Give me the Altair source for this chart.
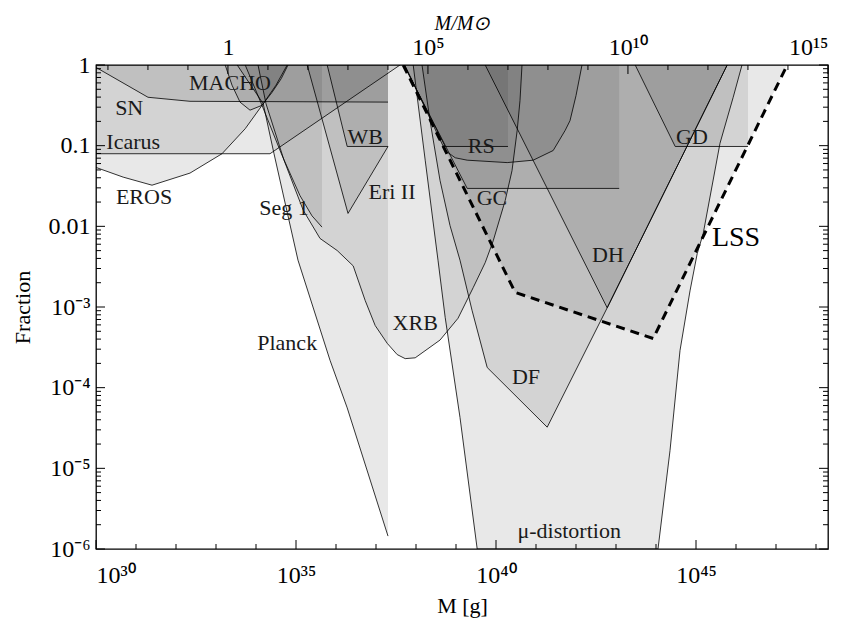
import altair as alt
import pandas as pd
import numpy as np

FONT = "Liberation Serif"

# ---- constraint boundaries: x = log10(M / g), y = log10(fraction) ----
SN_L = [30.0, 31.3, 32.35, 37.3]
SN_F = [-0.03, -0.40, -0.45, -0.46]
ICARUS_L = [30.0, 34.35, 37.6]
ICARUS_F = [-1.10, -1.10, 0.0]
EROS_L = [30.0, 30.68, 31.4, 32.35, 33.15, 33.73, 34.18, 34.5, 34.78]
EROS_F = [-1.27, -1.39, -1.49, -1.34, -1.10, -0.79, -0.48, -0.25, 0.0]
MACHO_L = [33.23, 33.4, 33.6, 33.85, 34.15, 34.4, 34.63, 34.8]
MACHO_F = [0.0, -0.25, -0.46, -0.56, -0.50, -0.34, -0.17, 0.0]
PLANCK_L = [33.53, 34.18, 34.45, 35.05, 35.85, 36.28, 37.3]
PLANCK_F = [0.0, -0.48, -1.10, -2.42, -3.66, -4.25, -5.84]
XRB_L = [34.05, 34.25, 34.7, 35.18, 35.6, 36.03, 36.43, 36.73, 36.98, 37.28, 37.53,
         37.73, 37.98, 38.6, 39.05, 39.43, 39.73, 39.93, 40.23, 40.4, 40.53, 40.6, 40.65]
XRB_F = [0.0, -0.48, -1.18, -1.80, -2.15, -2.30, -2.49, -2.92, -3.23, -3.45, -3.59,
         -3.64, -3.63, -3.41, -3.14, -2.76, -2.45, -2.18, -1.68, -1.31, -0.81, -0.44, 0.0]
SEG1_L = [33.73, 34.15, 34.65, 35.1, 35.4, 35.65]
SEG1_F = [0.0, -0.50, -1.12, -1.62, -1.87, -2.01]
ERI_L = [35.28, 36.3, 37.3]
ERI_F = [0.0, -1.84, -1.01]
WB_L = [35.78, 36.28, 37.3]
WB_F = [0.0, -1.01, -1.01]
RS_L = [37.7, 38.73, 40.3]
RS_F = [0.0, -1.01, -1.01]
GC_L = [37.7, 39.28, 43.08]
GC_F = [0.0, -1.53, -1.53]
U_L = [37.72, 38.73, 38.98, 39.28, 40.28, 40.93, 41.43, 41.73, 41.85, 42.0, 42.15]
U_F = [0.0, -1.06, -1.15, -1.18, -1.21, -1.18, -1.06, -0.81, -0.69, -0.38, 0.0]
DH_L = [39.73, 42.78, 45.78]
DH_F = [0.0, -3.01, 0.0]
DF_L = [38.15, 38.35, 38.6, 38.85, 39.1, 39.4, 39.78, 41.28, 42.78, 45.78]
DF_F = [0.0, -0.69, -1.43, -1.99, -2.42, -3.04, -3.75, -4.49, -3.01, 0.0]
MU_L = [37.93, 38.23, 38.55, 38.73, 39.1, 39.53, 44.05, 44.35, 44.6, 44.85, 45.03,
        45.18, 45.6, 45.93, 46.15]
MU_F = [0.0, -1.18, -2.42, -3.13, -4.37, -6.0, -6.0, -4.78, -3.54, -2.80, -2.34,
        -2.09, -0.97, -0.40, 0.0]
GD_L = [43.48, 44.48, 46.3]
GD_F = [0.0, -1.01, -1.01]
LSS_L = [37.68, 40.48, 43.93, 47.28]
LSS_F = [0.0, -2.82, -3.39, 0.0]

LABEL_TEXT = ["SN", "MACHO", "Icarus", "EROS", "WB", "Eri II", "Seg 1", "RS", "GC",
              "GD", "DH", "XRB", "Planck", "DF", "μ-distortion"]
LABEL_L = [30.83, 33.35, 30.93, 31.2, 36.73, 37.4, 34.7, 39.63, 39.9,
           44.9, 42.8, 37.98, 34.78, 40.75, 41.83]
LABEL_F = [-0.53, -0.22, -0.95, -1.64, -0.89, -1.58, -1.77, -1.01, -1.65,
           -0.89, -2.36, -3.2, -3.45, -3.87, -5.78]
LSS_LABEL_L = [46.0]
LSS_LABEL_F = [-2.14]

# axis ticks
X_MAJOR = [30, 35, 40, 45]
X_MINOR = [v for v in range(31, 49) if v % 5]
Y_MAJOR = [-6, -5, -4, -3, -2, -1, 0]
Y_MINOR = [n + np.log10(k) for n in range(-6, 0) for k in range(2, 10)]
LOG_MSUN = 33.2986
TOP_EXP = list(range(-3, 16))

constraints = {
    "SN": (SN_L, SN_F), "Icarus": (ICARUS_L, ICARUS_F), "EROS": (EROS_L, EROS_F),
    "MACHO": (MACHO_L, MACHO_F), "Planck": (PLANCK_L, PLANCK_F), "XRB": (XRB_L, XRB_F),
    "Seg1": (SEG1_L, SEG1_F), "EriII": (ERI_L, ERI_F), "WB": (WB_L, WB_F),
    "RS": (RS_L, RS_F), "GC": (GC_L, GC_F), "U": (U_L, U_F), "DH": (DH_L, DH_F),
    "DF": (DF_L, DF_F), "MU": (MU_L, MU_F), "GD": (GD_L, GD_F), "LSS": (LSS_L, LSS_F),
}

fill_rows, line_rows = [], []
for name, (Ls, Fs) in constraints.items():
    pts = list(zip(Ls, Fs))
    for i, (l, f) in enumerate(pts):
        if name != "LSS":
            line_rows.append({"name": name, "i": i, "L": l, "F": f})
    closing = []
    if Fs[-1] != 0:
        closing.append((Ls[-1], 0.0))
    if Fs[0] != 0:
        closing.append((Ls[0], 0.0))
    for i, (l, f) in enumerate(pts + closing):
        fill_rows.append({"name": name, "i": i, "L": l, "F": f})

fill_df = pd.DataFrame(fill_rows)
line_df = pd.DataFrame(line_rows)
lss_df = pd.DataFrame({"i": range(len(LSS_L)), "L": LSS_L, "F": LSS_F})
lab_df = pd.DataFrame({"t": LABEL_TEXT, "L": LABEL_L, "F": LABEL_F})
lss_lab = pd.DataFrame({"t": ["LSS"], "L": LSS_LABEL_L, "F": LSS_LABEL_F})

W, H = 732, 484
xs = alt.Scale(domain=[30, 48.3], nice=False, zero=False)
ys = alt.Scale(domain=[-6, 0], nice=False, zero=False)

x_label = ("datum.value == 30 ? '10³⁰' : datum.value == 35 ? '10³⁵' : "
           "datum.value == 40 ? '10⁴⁰' : '10⁴⁵'")
y_label = ("datum.value == 0 ? '1' : datum.value == -1 ? '0.1' : datum.value == -2 ? '0.01' : "
           "datum.value == -3 ? '10⁻³' : datum.value == -4 ? '10⁻⁴' : "
           "datum.value == -5 ? '10⁻⁵' : '10⁻⁶'")
top_label = ("datum.value < 34 ? '1' : datum.value < 39 ? '10⁵' : "
             "datum.value < 44 ? '10¹⁰' : '10¹⁵'")

AX = dict(grid=False, domain=False, ticks=False, labelFont=FONT, labelFontSize=24,
          labelColor="black", titleFont=FONT, titleFontSize=22, titleColor="black",
          titleFontWeight="normal")

fills = alt.Chart(fill_df).mark_line(
    fill="black", fillOpacity=0.09, strokeOpacity=0, clip=True
).encode(
    x=alt.X("L:Q", scale=xs, axis=alt.Axis(orient="bottom", values=X_MAJOR, labelExpr=x_label,
                                           title="M [g]", labelPadding=14, titlePadding=8, **AX)),
    y=alt.Y("F:Q", scale=ys, axis=alt.Axis(orient="left", values=Y_MAJOR, labelExpr=y_label,
                                           title="Fraction", labelPadding=6, titlePadding=14, **AX)),
    detail="name:N",
    order="i:Q",
)

lines = alt.Chart(line_df).mark_line(color="black", strokeWidth=0.8, clip=True).encode(
    x=alt.X("L:Q", scale=xs, axis=None),
    y=alt.Y("F:Q", scale=ys, axis=None),
    detail="name:N",
    order="i:Q",
)

lss = alt.Chart(lss_df).mark_line(color="black", strokeWidth=3, strokeDash=[9, 6], clip=True).encode(
    x=alt.X("L:Q", scale=xs, axis=None),
    y=alt.Y("F:Q", scale=ys, axis=None),
    order="i:Q",
)

labels = alt.Chart(lab_df).mark_text(font=FONT, fontSize=22, color="#1a1a1a").encode(
    x=alt.X("L:Q", scale=xs, axis=None),
    y=alt.Y("F:Q", scale=ys, axis=None),
    text="t:N",
)
lss_text = alt.Chart(lss_lab).mark_text(font=FONT, fontSize=28, color="black").encode(
    x=alt.X("L:Q", scale=xs, axis=None),
    y=alt.Y("F:Q", scale=ys, axis=None),
    text="t:N",
)

def hticks(vals, x0, x1):
    return alt.Chart(pd.DataFrame({"v": vals})).mark_rule(color="black", strokeWidth=1).encode(
        y=alt.Y("v:Q", scale=ys, axis=None), x=alt.value(x0), x2=alt.value(x1))

def vticks(vals, y0, y1):
    return alt.Chart(pd.DataFrame({"v": vals})).mark_rule(color="black", strokeWidth=1).encode(
        x=alt.X("v:Q", scale=xs, axis=None), y=alt.value(y0), y2=alt.value(y1))

tick_layers = [
    hticks(Y_MAJOR, 0, 9), hticks(Y_MINOR, 0, 5),
    hticks(Y_MAJOR, W, W - 9), hticks(Y_MINOR, W, W - 5),
    vticks(X_MAJOR, H, H - 9), vticks(X_MINOR, H, H - 5),
]

top_df = pd.DataFrame({"e": TOP_EXP})
top_minor = alt.Chart(top_df).transform_calculate(
    T=f"datum.e + {LOG_MSUN}"
).transform_filter("datum.e % 5 != 0").mark_rule(color="black", strokeWidth=1).encode(
    x=alt.X("T:Q", scale=xs, axis=None), y=alt.value(0), y2=alt.value(5))
top_major = alt.Chart(top_df).transform_calculate(
    T=f"datum.e + {LOG_MSUN}"
).transform_filter("datum.e % 5 == 0").mark_rule(color="black", strokeWidth=1).encode(
    x=alt.X("T:Q", scale=xs, axis=alt.Axis(
        orient="top", values=[e + LOG_MSUN for e in [0, 5, 10, 15]], labelExpr=top_label,
        title="M/M⊙", labelPadding=6, titlePadding=2,
        **{**AX, "titleFontSize": 20}, titleFontStyle="italic")),
    y=alt.value(0), y2=alt.value(9))

chart = alt.layer(
    fills, lines, lss, labels, lss_text, *tick_layers, top_minor, top_major
).resolve_axis(x="independent", y="independent").properties(
    width=W, height=H,
    background="white",
    autosize=alt.AutoSizeParams(type="none"),
    padding={"left": 88, "top": 57, "right": 16, "bottom": 71},
).configure_view(
    stroke="black", strokeWidth=1.3
)

chart.save("out.html", embed_options={"renderer": "svg", "actions": False})
